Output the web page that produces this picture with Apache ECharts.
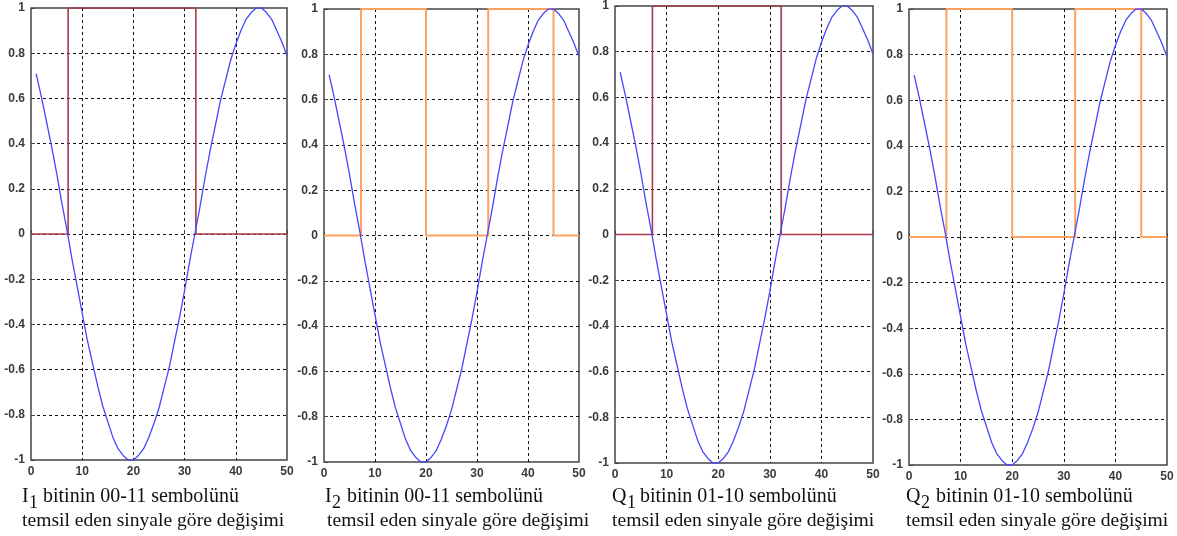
<!DOCTYPE html>
<html>
<head>
<meta charset="utf-8">
<script src="https://cdn.jsdelivr.net/npm/echarts@6/dist/echarts.min.js"></script>
<style>
html,body{margin:0;padding:0;background:#fff;}
#c{width:1177px;height:536px;}
</style>
</head>
<body>
<div id="c"></div>
<script>
// ---- data ----
const xVals = [1,2,3,4,5,6,7,8,9,10,11,12,13,14,15,16,17,18,19,20,21,22,23,24,25,26,27,28,29,30,31,32,33,34,35,36,37,38,39,40,41,42,43,44,45,46,47,48,49,50];
const carrier = [0.71,0.61,0.50,0.39,0.27,0.14,0.02,-0.11,-0.23,-0.35,-0.47,-0.57,-0.67,-0.76,-0.83,-0.90,-0.95,-0.98,-1.0,-1.0,-0.98,-0.95,-0.90,-0.84,-0.77,-0.68,-0.59,-0.48,-0.37,-0.25,-0.12,0.0,0.12,0.25,0.37,0.48,0.59,0.68,0.77,0.84,0.90,0.95,0.98,1.0,1.0,0.98,0.95,0.90,0.85,0.79];
// square waves: [x, level]
const squareI1 = [[0,0],[7.25,0],[7.25,1],[32.2,1],[32.2,0],[50,0]];
const squareI2 = [[0,0],[7.25,0],[7.25,1],[20,1],[20,0],[32.2,0],[32.2,1],[45,1],[45,0],[50,0]];
const squareQ1 = [[0,0],[7.25,0],[7.25,1],[32.2,1],[32.2,0],[50,0]];
const squareQ2 = [[0,0],[7.25,0],[7.25,1],[20,1],[20,0],[32.2,0],[32.2,1],[45,1],[45,0],[50,0]];
const xTicks = [0,10,20,30,40,50];
const yTicks = [-1,-0.8,-0.6,-0.4,-0.2,0,0.2,0.4,0.6,0.8,1];
const captionMain = ['I','I','Q','Q'];
const captionSub = ['1','2','1','2'];
const captionLine1 = ['bitinin 00-11 sembolünü','bitinin 00-11 sembolünü','bitinin 01-10 sembolünü','bitinin 01-10 sembolünü'];
const captionLine2 = 'temsil eden sinyale göre değişimi';

// ---- layout ----
const grids = [
  {left:31, top:8, width:256, height:452},
  {left:324, top:9, width:255, height:453},
  {left:615, top:6, width:258, height:457},
  {left:909, top:9, width:258, height:456}
];
const squares = [squareI1, squareI2, squareQ1, squareQ2];
const squareColors = ['#a8394a','#ffa15e','#a8394a','#ffa15e'];
const squareWidths = [1.6, 2, 1.6, 2];
const capX = [[22,29,43],[325,332,347],[612,627,640],[906,921,936]];
const capX2 = [22,327,612,906];

const labelStyle = {color:'#3a3a3a', fontFamily:'Liberation Sans, Arial', fontSize:12, fontWeight:'bold'};
const splitStyle = {show:true, showMinLine:false, showMaxLine:false, lineStyle:{color:'#111', type:[3,3], width:1}};

const option = {
  animation:false,
  backgroundColor:'#fff',
  grid: grids.map(g => Object.assign({show:true, borderColor:'#444', borderWidth:1.5, backgroundColor:'transparent', containLabel:false}, g)),
  xAxis: grids.map((g,i) => ({
    type:'value', gridIndex:i, min:xTicks[0], max:xTicks[xTicks.length-1], interval:10,
    axisLine:{show:false},
    axisTick:{show:true, inside:true, length:4, lineStyle:{color:'#444'}},
    axisLabel:Object.assign({margin:6}, labelStyle),
    splitLine:splitStyle
  })),
  yAxis: grids.map((g,i) => ({
    type:'value', gridIndex:i, min:yTicks[0], max:yTicks[yTicks.length-1], interval:0.2,
    axisLine:{show:false},
    axisTick:{show:true, inside:true, length:4, lineStyle:{color:'#444'}},
    axisLabel:Object.assign({margin:6, formatter: v => String(+v.toFixed(1))}, labelStyle),
    splitLine:splitStyle
  })),
  series: [],
  graphic: []
};

grids.forEach((g,i) => {
  option.series.push({
    type:'line', xAxisIndex:i, yAxisIndex:i, data:squares[i], symbol:'none',
    lineStyle:{color:squareColors[i], width:squareWidths[i]}, z:3
  });
  option.series.push({
    type:'line', xAxisIndex:i, yAxisIndex:i, data:xVals.map((x,k)=>[x,carrier[k]]), symbol:'none',
    lineStyle:{color:'#4646ff', width:1.3}, z:4
  });
  const font = '20px "Liberation Serif", "Times New Roman", serif';
  const font2 = '19.6px "Liberation Serif", "Times New Roman", serif';
  option.graphic.push(
    {type:'text', x:capX[i][0], y:497, style:{text:captionMain[i], font:font, fill:'#111', verticalAlign:'middle'}},
    {type:'text', x:capX[i][1], y:503, style:{text:captionSub[i], font:'18px "Liberation Serif", serif', fill:'#111', verticalAlign:'middle'}},
    {type:'text', x:capX[i][2], y:497, style:{text:captionLine1[i], font:font, fill:'#111', verticalAlign:'middle'}},
    {type:'text', x:capX2[i], y:521, style:{text:captionLine2, font:font2, fill:'#111', verticalAlign:'middle'}}
  );
});

const chart = echarts.init(document.getElementById('c'), null, {renderer:'canvas'});
chart.setOption(option);
</script>
</body>
</html>
